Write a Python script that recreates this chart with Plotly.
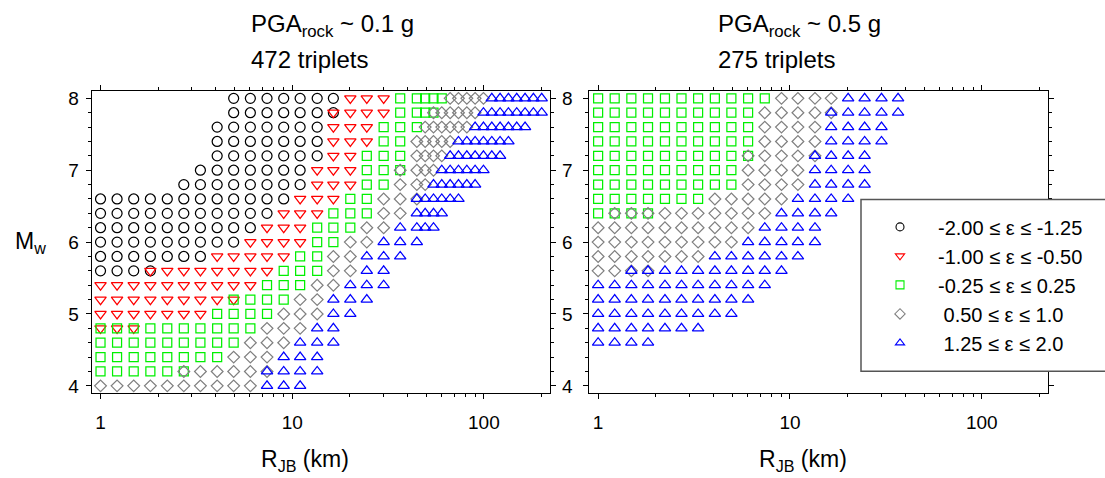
import plotly.graph_objects as go

W, H = 1105, 478
FONT = "Liberation Sans, Arial, Helvetica, sans-serif"

# Joyner-Boore distance grid (km) used by the scenarios
RJB_KM = [1.00, 1.22, 1.49, 1.82, 2.23, 2.72, 3.32, 4.06, 4.95, 6.05,
          7.39, 9.03, 11.0, 13.5, 16.4, 20.1, 24.5, 30.0, 36.6, 44.7,
          49.4, 54.6, 60.3, 66.7, 73.7, 81.5, 90.0, 99.5, 110.0, 121.5,
          134.3, 148.4, 164.0, 181.3, 200.3]

# Each entry: (Mw, first RJB index, last RJB index)
# ---- PGA_rock ~ 0.1 g (472 triplets)
L_EPS1 = [(8.0, 8, 14), (7.8, 8, 14), (7.6, 7, 13), (7.4, 7, 13), (7.2, 7, 13),
          (7.0, 6, 12), (6.8, 5, 12), (6.6, 0, 11), (6.4, 0, 10), (6.2, 0, 9),
          (6.0, 0, 8), (5.8, 0, 6), (5.6, 0, 3)]
L_EPS2 = [(8.0, 15, 17), (7.8, 14, 17), (7.6, 14, 16), (7.4, 14, 16), (7.2, 14, 15),
          (7.0, 13, 15), (6.8, 13, 15), (6.6, 12, 14), (6.4, 11, 13), (6.2, 10, 12),
          (6.0, 9, 12), (5.8, 7, 11), (5.6, 3, 10), (5.4, 0, 9), (5.2, 0, 8),
          (5.0, 0, 6), (4.8, 0, 2)]
L_EPS3 = [(8.0, 18, 22), (7.8, 18, 21), (7.6, 17, 19), (7.4, 17, 18), (7.2, 16, 18),
          (7.0, 16, 18), (6.8, 16, 17), (6.6, 15, 16), (6.4, 14, 16), (6.2, 13, 15),
          (6.0, 13, 14), (5.8, 12, 13), (5.6, 11, 13), (5.4, 10, 12), (5.2, 8, 11),
          (5.0, 7, 10), (4.8, 0, 9), (4.6, 0, 8), (4.4, 0, 7), (4.2, 0, 5)]
L_EPS4 = [(8.0, 23, 27), (7.8, 21, 26), (7.6, 20, 25), (7.4, 19, 23), (7.2, 19, 22),
          (7.0, 18, 21), (6.8, 18, 20), (6.6, 17, 19), (6.4, 17, 18), (6.2, 16, 17),
          (6.0, 15, 16), (5.8, 14, 15), (5.6, 14, 15), (5.4, 13, 14), (5.2, 12, 13),
          (5.0, 11, 13), (4.8, 10, 12), (4.6, 9, 11), (4.4, 8, 10), (4.2, 5, 10),
          (4.0, 0, 9)]
L_EPS5 = [(8.0, 28, 34), (7.8, 27, 34), (7.6, 26, 32), (7.4, 24, 30), (7.2, 23, 29),
          (7.0, 22, 27), (6.8, 21, 26), (6.6, 19, 24), (6.4, 19, 22), (6.2, 18, 21),
          (6.0, 17, 19), (5.8, 16, 18), (5.6, 16, 17), (5.4, 15, 17), (5.2, 14, 16),
          (5.0, 14, 15), (4.8, 13, 14), (4.6, 12, 14), (4.4, 11, 13), (4.2, 10, 13),
          (4.0, 10, 12)]
# ---- PGA_rock ~ 0.5 g (275 triplets)
R_EPS3 = [(8.0, 0, 10), (7.8, 0, 9), (7.6, 0, 9), (7.4, 0, 9), (7.2, 0, 9),
          (7.0, 0, 8), (6.8, 0, 8), (6.6, 0, 6), (6.4, 0, 3)]
R_EPS4 = [(8.0, 11, 14), (7.8, 10, 14), (7.6, 10, 13), (7.4, 10, 13), (7.2, 9, 13),
          (7.0, 9, 12), (6.8, 9, 12), (6.6, 7, 11), (6.4, 1, 10), (6.2, 0, 9),
          (6.0, 0, 8), (5.8, 0, 6), (5.6, 0, 3)]
R_EPS5 = [(8.0, 15, 18), (7.8, 14, 18), (7.6, 14, 17), (7.4, 14, 17), (7.2, 13, 16),
          (7.0, 13, 16), (6.8, 13, 16), (6.6, 12, 15), (6.4, 11, 14), (6.2, 10, 13),
          (6.0, 9, 13), (5.8, 7, 12), (5.6, 2, 11), (5.4, 0, 10), (5.2, 0, 9),
          (5.0, 0, 8), (4.8, 0, 6), (4.6, 0, 3)]

EPS_LABELS = ["-2.00 \u2264 \u03b5 \u2264 -1.25",
              "-1.00 \u2264 \u03b5 \u2264 -0.50",
              "-0.25 \u2264 \u03b5 \u2264 0.25",
              "\u00a00.50 \u2264 \u03b5 \u2264 1.0",
              "\u00a01.25 \u2264 \u03b5 \u2264 2.0"]
SYMBOLS = ["circle-open", "triangle-down-open", "square-open", "diamond-open", "triangle-up-open"]
COLORS = ["#000000", "#ff0000", "#00f000", "#808080", "#0000ff"]
SIZES = [10, 10, 9, 9, 10]

TITLES = [("PGA<sub>rock</sub> ~ 0.1 g", "472 triplets"),
          ("PGA<sub>rock</sub> ~ 0.5 g", "275 triplets")]

R_TICKS = [1, 10, 100]
R_MINOR = [2, 3, 4, 5, 6, 7, 8, 9, 20, 30, 40, 50, 60, 70, 80, 90, 200]
M_TICKS = [4, 5, 6, 7, 8]
M_MINOR = [4.2, 4.4, 4.6, 4.8, 5.2, 5.4, 5.6, 5.8, 6.2, 6.4, 6.6, 6.8, 7.2, 7.4, 7.6, 7.8]


def expand(rows):
    xs, ys = [], []
    for m, i0, i1 in rows:
        for i in range(i0, i1 + 1):
            xs.append(RJB_KM[i])
            ys.append(m)
    return xs, ys


def px(x):
    return x / W


def py(y):
    return 1 - y / H


fig = go.Figure()

panels = [("x", "y", [L_EPS1, L_EPS2, L_EPS3, L_EPS4, L_EPS5]),
          ("x2", "y2", [None, None, R_EPS3, R_EPS4, R_EPS5])]
for xa, ya, sets in panels:
    for k, rows in enumerate(sets):
        if rows is None:
            continue
        xs, ys = expand(rows)
        fig.add_trace(go.Scatter(
            x=xs, y=ys, xaxis=xa, yaxis=ya, mode="markers", showlegend=False,
            marker=dict(symbol=SYMBOLS[k], size=SIZES[k], color=COLORS[k],
                        line=dict(width=1.25, color=COLORS[k])),
            hoverinfo="skip"))

# legend entries
for k in range(5):
    fig.add_trace(go.Scatter(
        x=[None], y=[None], xaxis="x2", yaxis="y2", mode="markers", name=EPS_LABELS[k],
        marker=dict(symbol=SYMBOLS[k], size=8, color=COLORS[k],
                    line=dict(width=1.1, color=COLORS[k]))))

XDOM = [[px(91.7), px(550)], [px(589.3), px(1048)]]
YDOM = [py(395), py(89.3)]

for j, (xname, yname) in enumerate([("xaxis", "yaxis"), ("xaxis2", "yaxis2")]):
    anchor_y = "y" if j == 0 else "y2"
    anchor_x = "x" if j == 0 else "x2"
    fig.layout[xname] = dict(
        domain=XDOM[j], anchor=anchor_y, type="log", range=[-0.046, 2.345],
        tickvals=R_TICKS, ticktext=[str(v) for v in R_TICKS],
        ticks="outside", ticklen=5, tickwidth=1, tickcolor="black",
        showline=True, linecolor="black", linewidth=1, mirror="allticks",
        showgrid=False, zeroline=False, ticklabelstandoff=7,
        tickfont=dict(size=19, color="black", family=FONT),
        minor=dict(tickvals=R_MINOR, ticks="outside", ticklen=3, tickcolor="black",
                   tickwidth=1, showgrid=False))
    fig.layout[yname] = dict(
        domain=YDOM, anchor=anchor_x, range=[3.90, 8.10],
        tickvals=M_TICKS, ticktext=[str(v) for v in M_TICKS],
        ticks="outside", ticklen=5, tickwidth=1, tickcolor="black",
        showline=True, linecolor="black", linewidth=1, mirror="allticks",
        showgrid=False, zeroline=False, ticklabelstandoff=(3 if j == 0 else 7),
        tickfont=dict(size=19, color="black", family=FONT),
        minor=dict(tickvals=M_MINOR, ticks="outside", ticklen=3, tickcolor="black",
                   tickwidth=1, showgrid=False))

ann = []
for j, (t1, t2) in enumerate(TITLES):
    x0 = 249 if j == 0 else 716
    ann.append(dict(text=t1, x=px(x0), y=py(23), xref="paper", yref="paper",
                    xanchor="left", yanchor="middle", showarrow=False,
                    font=dict(size=24, color="black", family=FONT)))
    ann.append(dict(text=t2, x=px(x0), y=py(57), xref="paper", yref="paper",
                    xanchor="left", yanchor="middle", showarrow=False,
                    font=dict(size=24, color="black", family=FONT)))
    xt = 259 if j == 0 else 757
    ann.append(dict(text="R<sub>JB</sub> (km)", x=px(xt), y=py(463), xref="paper", yref="paper",
                    xanchor="left", yanchor="middle", showarrow=False,
                    font=dict(size=23, color="black", family=FONT)))
ann.append(dict(text="M<sub>w</sub>", x=px(13), y=py(243), xref="paper", yref="paper",
                xanchor="left", yanchor="middle", showarrow=False,
                font=dict(size=23, color="black", family=FONT)))

fig.update_layout(
    width=W, height=H, margin=dict(l=0, r=0, t=0, b=0),
    paper_bgcolor="white", plot_bgcolor="white",
    font=dict(family=FONT, color="black"),
    annotations=ann,
    shapes=[dict(type="rect", xref="paper", yref="paper", x0=px(861), x1=px(1112),
                 y0=py(373), y1=py(199), line=dict(color="#555555", width=1.5),
                 fillcolor="white", layer="above")],
    legend=dict(x=px(862), y=py(207), xanchor="left", yanchor="top",
                bgcolor="rgba(0,0,0,0)", borderwidth=0, itemwidth=66,
                font=dict(size=20, color="black", family=FONT), tracegroupgap=0),
)

fig.write_html("out.html")
